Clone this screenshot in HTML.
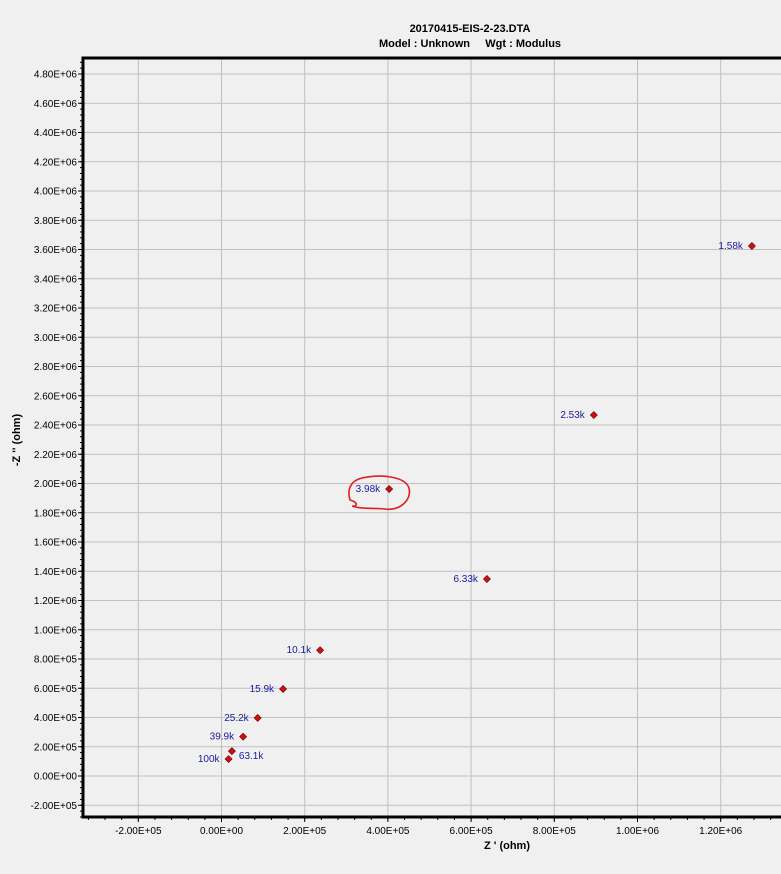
<!DOCTYPE html>
<html><head><meta charset="utf-8"><style>
html,body{margin:0;padding:0;background:#f0f0f0;}
svg{display:block;font-family:"Liberation Sans",Arial,sans-serif;}
</style></head><body>
<svg id="chart" width="781" height="874" viewBox="0 0 781 874">
<rect x="0" y="0" width="781" height="874" fill="#f0f0f0"/>
<g id="grid"></g>
<g id="axes"></g>
<text x="470" y="32" text-anchor="middle" font-size="11" font-weight="bold" fill="#000">20170415-EIS-2-23.DTA</text>
<text x="470" y="47" text-anchor="middle" font-size="11" font-weight="bold" fill="#000" xml:space="preserve">Model : Unknown     Wgt : Modulus</text>
<text x="507" y="849" text-anchor="middle" font-size="11" font-weight="bold" fill="#000">Z ' (ohm)</text>
<text x="0" y="0" transform="translate(20,440) rotate(-90)" text-anchor="middle" font-size="11" font-weight="bold" fill="#000">-Z '' (ohm)</text>
<g id="points"></g>
<path d="M362,478 C380,474 405,476 409,488 C412,500 400,511 385,509 C372,508 360,509 352,506 C356,507 360,503 350,500 C347,490 350,481 362,478 Z" fill="none" stroke="#e02020" stroke-width="1.6"/>
</svg>
<script>
const freqLabels=["100k","63.1k","39.9k","25.2k","15.9k","10.1k","6.33k","3.98k","2.53k","1.58k"];
const zReal=[1.7e4,2.5e4,5.2e4,8.7e4,1.48e5,2.37e5,6.38e5,4.03e5,8.95e5,1.275e6];
const zImag=[1.16e5,1.70e5,2.69e5,3.97e5,5.95e5,8.60e5,1.347e6,1.962e6,2.468e6,3.624e6];
const labelRight=[false,true,false,false,false,false,false,false,false,false];
const xTicks=[-2e5,0,2e5,4e5,6e5,8e5,1e6,1.2e6];
const yTicks=[-2e5,0,2e5,4e5,6e5,8e5,1e6,1.2e6,1.4e6,1.6e6,1.8e6,2e6,2.2e6,2.4e6,2.6e6,2.8e6,3e6,3.2e6,3.4e6,3.6e6,3.8e6,4e6,4.2e6,4.4e6,4.6e6,4.8e6];
const NS="http://www.w3.org/2000/svg";
const L=83,T=58,R=781,B=817;
function xs(v){return 221.5+v/2e5*83.2;}
function ys(v){return 776-v/2e5*29.25;}
function mk(tag,a,p){const e=document.createElementNS(NS,tag);for(const k in a)e.setAttribute(k,a[k]);p.appendChild(e);return e;}
function fmt(v){if(v===0)return "0.00E+00";const s=v<0?"-":"";const a=Math.abs(v);const ex=Math.floor(Math.log10(a)+1e-9);const m=(a/Math.pow(10,ex)).toFixed(2);return s+m+"E+"+String(ex).padStart(2,"0");}
const grid=document.getElementById('grid'),axes=document.getElementById('axes'),pts=document.getElementById('points');
xTicks.forEach(v=>{const x=xs(v);
 const g=mk('line',{x1:x,y1:T,x2:x,y2:B,stroke:"#c0c0c0","stroke-width":1},grid);
 
 
 const t=mk('text',{x:x,y:834,"text-anchor":"middle","font-size":10,fill:"#000"},axes);t.textContent=fmt(v);
 
 
});
yTicks.forEach(v=>{const y=ys(v);
 const g=mk('line',{x1:L,y1:y,x2:R,y2:y,stroke:"#c0c0c0","stroke-width":1},grid);
 
 
 const t=mk('text',{x:77,y:y+3.5,"text-anchor":"end","font-size":10,fill:"#000"},axes);t.textContent=fmt(v);
 
 
});
for(let v=-3.2e5;v<=1.4e6;v+=4e4){const x=xs(v);if(x<L+2||x>R)continue;mk('line',{x1:x,y1:B,x2:x,y2:B+3,stroke:"#000"},axes);}
for(let v=-2.8e5;v<=5e6;v+=4e4){const y=ys(v);if(y<T+2||y>B)continue;mk('line',{x1:L-3,y1:y,x2:L,y2:y,stroke:"#000"},axes);}
xTicks.forEach(v=>mk('line',{x1:xs(v),y1:B,x2:xs(v),y2:B+5,stroke:"#000"},axes));
yTicks.forEach(v=>mk('line',{x1:L-5,y1:ys(v),x2:L,y2:ys(v),stroke:"#000"},axes));
const ax=mk('path',{d:`M${R},${T} H${L} V${B} H${R}`,fill:"none",stroke:"#000","stroke-width":3},axes);


zReal.forEach((zr,i)=>{const x=xs(zr),y=ys(zImag[i]);
 const d=mk('rect',{x:x-2.5,y:y-2.5,width:5,height:5,fill:"#d01010",stroke:"#600",'stroke-width':0.6,transform:`rotate(45 ${x} ${y})`},pts);
 
 
 const t=mk('text',{x:labelRight[i]?x+7:x-9,y:y+(labelRight[i]?8:3),"text-anchor":labelRight[i]?"start":"end","font-size":10,fill:"#1a1aa0"},pts);
 t.textContent=freqLabels[i];
 
 
});
</script>
</body></html>
